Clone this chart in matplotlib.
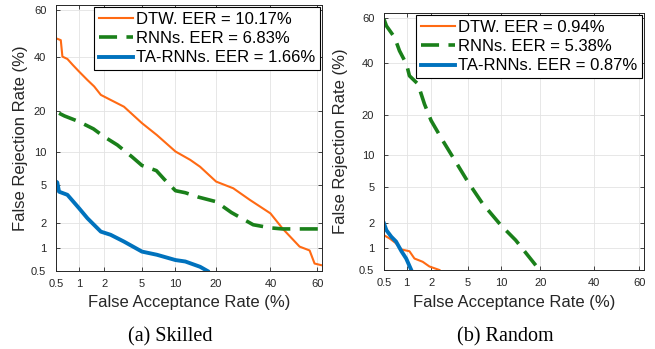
from statistics import NormalDist

import numpy as np
from matplotlib import pyplot as plt

plt.rcParams['font.family'] = ['Liberation Sans', 'DejaVu Sans']

# Skilled forgeries (FAR %, FRR %)
dtw_sk_far = [0.5, 0.58, 0.61, 0.71, 0.83, 1.0, 1.27, 1.53, 1.83, 2.36, 3.29, 5.0, 6.9, 10.0,
              13.1, 15.5, 20, 25.6, 31.7, 40, 45.3, 52.5, 56.8, 58.9, 61.6]
dtw_sk_frr = [47.8, 47, 40, 39, 36.6, 33.9, 30.6, 28.2, 25.2, 23.5, 21.3, 16.5, 13.5, 10.0,
              8.5, 7.4, 5.4, 4.65, 3.55, 2.55, 1.7, 1.04, 0.93, 0.63, 0.6]
rnn_sk_far = [0.55, 0.65, 1.0, 1.5, 2.0, 2.8, 4, 5, 6.83, 8, 10, 12, 15, 20, 25, 33, 40, 45, 62]
rnn_sk_frr = [19.3, 18.5, 16.9, 15, 13.1, 11.3, 9, 7.6, 6.83, 5.7, 4.4, 4.2, 3.8, 3.4, 2.6,
              1.9, 1.75, 1.7, 1.7]
ta_sk_far = [0.5, 0.52, 0.55, 0.71, 1.0, 1.27, 1.83, 2.36, 3.29, 5, 6.9, 10, 12, 15.5, 17.5]
ta_sk_frr = [5.4, 5.3, 4.3, 4.0, 2.9, 2.25, 1.58, 1.45, 1.2, 0.9, 0.82, 0.7, 0.67, 0.57, 0.5]

# Random forgeries
dtw_rd_far = [0.5, 0.6, 0.73, 0.86, 1.09, 1.26, 1.59, 1.91, 2.49]
dtw_rd_frr = [1.44, 1.31, 1.14, 0.95, 0.9, 0.72, 0.65, 0.56, 0.5]
rnn_rd_far = [0.5, 0.54, 0.70, 0.81, 1.0, 1.09, 1.39, 1.67, 2.0, 2.7, 3.76, 5, 6.9, 10, 13.2, 19.7]
rnn_rd_frr = [59.3, 56.4, 51.2, 45.3, 39.4, 34.5, 31.2, 23.7, 18.4, 13.1, 8.6, 5.6, 3.35, 1.91,
              1.25, 0.5]
ta_rd_far = [0.5, 0.54, 0.63, 0.73, 0.86, 0.99, 1.15]
ta_rd_frr = [2.0, 1.66, 1.38, 1.2, 0.9, 0.72, 0.5]

ticks = [0.5, 1, 2, 5, 10, 20, 40, 60]
tick_labels = ['0.5', '1', '2', '5', '10', '20', '40', '60']

nd = NormalDist()
_ppf = np.vectorize(nd.inv_cdf, otypes=[float])
_cdf = np.vectorize(nd.cdf, otypes=[float])


def probit(p):
    p = np.clip(np.asarray(p, dtype=float) / 100.0, 1e-9, 1 - 1e-9)
    return _ppf(p)


def probit_inv(z):
    return _cdf(np.asarray(z, dtype=float)) * 100.0


ORANGE = '#ff6a13'
GREEN = '#1a801a'
BLUE = '#0072bd'
DARK = '#262626'

fig = plt.figure(figsize=(6.55, 3.49), dpi=100)
ax1 = fig.add_axes([56 / 655, 78 / 349, 266 / 655, 266 / 349])
ax2 = fig.add_axes([384 / 655, 79 / 349, 260 / 655, 257 / 349])


def setup(ax, series, eers, ylab_x, xlab_y):
    (d_far, d_frr), (r_far, r_frr), (t_far, t_frr) = series
    ax.set_xscale('function', functions=(probit, probit_inv))
    ax.set_yscale('function', functions=(probit, probit_inv))
    ax.plot(d_far, d_frr, color=ORANGE, lw=1.5, label=f'DTW. EER = {eers[0]}%')
    ax.plot(r_far, r_frr, color=GREEN, lw=2.6, dashes=(5, 2.6),
            label=f'RNNs. EER = {eers[1]}%')
    ax.plot(t_far, t_frr, color=BLUE, lw=2.8, label=f'TA-RNNs. EER = {eers[2]}%')
    ax.set_xlim(0.5, 62)
    ax.set_ylim(0.5, 62)
    ax.set_xticks(ticks, tick_labels)
    ax.set_yticks(ticks, tick_labels)
    ax.minorticks_off()
    ax.tick_params(direction='in', length=3, width=0.6, top=True, right=True,
                   labelsize=8, colors=DARK)
    ax.tick_params(axis='y', pad=7)
    ax.tick_params(axis='x', pad=6)
    ax.grid(True, color='#e3e3e3', lw=0.6)
    ax.set_axisbelow(True)
    for s in ax.spines.values():
        s.set_color(DARK)
        s.set_linewidth(0.7)
    ax.set_xlabel('False Acceptance Rate (%)', fontsize=12, color=DARK, va='center')
    ax.set_ylabel('False Rejection Rate (%)', fontsize=12, color=DARK, va='center')
    ax.xaxis.set_label_coords(0.5, xlab_y)
    ax.yaxis.set_label_coords(ylab_x, 0.5)
    leg = ax.legend(loc='upper right', fontsize=12, fancybox=False, framealpha=1,
                    edgecolor='black', borderaxespad=0.15, handlelength=2.05,
                    labelspacing=0.25, borderpad=0.28, handletextpad=0.15)
    leg.get_frame().set_linewidth(0.8)


setup(ax1, [(dtw_sk_far, dtw_sk_frr), (rnn_sk_far, rnn_sk_frr), (ta_sk_far, ta_sk_frr)],
      ['10.17', '6.83', '1.66'], -0.132, -0.12)
setup(ax2, [(dtw_rd_far, dtw_rd_frr), (rnn_rd_far, rnn_rd_frr), (ta_rd_far, ta_rd_frr)],
      ['0.94', '5.38', '0.87'], -0.166, -0.128)

fig.text(170 / 655, 1 - 337 / 349, '(a) Skilled', family='Liberation Serif',
         fontsize=14.5, ha='center', va='center')
fig.text(505 / 655, 1 - 337 / 349, '(b) Random', family='Liberation Serif',
         fontsize=14.5, ha='center', va='center')

fig.savefig('out.png', dpi=100)
